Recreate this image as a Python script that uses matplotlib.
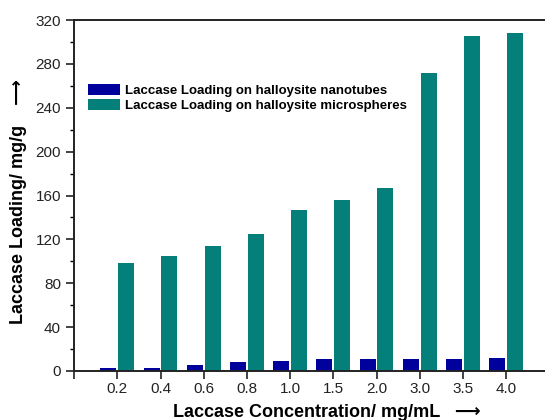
import matplotlib
matplotlib.use("Agg")
import matplotlib.pyplot as plt
import numpy as np

plt.rcParams["font.family"] = ["Liberation Sans", "DejaVu Sans"]

# laccase concentration (mg/mL) and loading (mg/g)
concentrations = ["0.2", "0.4", "0.6", "0.8", "1.0", "1.5", "2.0", "3.0", "3.5", "4.0"]
loading_nanotubes = [2.5, 3, 5, 8, 9, 11, 11, 11, 11, 11.5]
loading_microspheres = [98, 105, 114, 125, 147, 156, 167, 272, 306, 308]

fig = plt.figure(figsize=(5.45, 4.2), dpi=100)
ax = fig.add_axes([0.136, 0.117, 0.864, 0.835])

x = np.arange(len(concentrations))
w = 0.37
ax.bar(x - w / 2 - 0.02, loading_nanotubes, w, color="#00009C",
       label="Laccase Loading on halloysite nanotubes")
ax.bar(x + w / 2 + 0.02, loading_microspheres, w, color="#047F7A",
       label="Laccase Loading on halloysite microspheres")

ax.set_xlim(-1, 9.9)
ax.set_ylim(0, 320)
ax.set_yticks(np.arange(0, 321, 40))
ax.set_yticks(np.arange(0, 321, 20), minor=True)
ax.set_xticks(np.arange(-1, len(concentrations)))
ax.set_xticklabels([""] + concentrations)

for s in ["left", "bottom", "top"]:
    ax.spines[s].set_linewidth(1.4)
    ax.spines[s].set_color("#222222")
ax.spines["right"].set_visible(False)
ax.tick_params(axis="both", which="major", direction="out", length=6,
               width=1.2, labelsize=11, colors="#222222")
ax.tick_params(axis="y", which="minor", direction="out", length=3, width=1.0)
ax.tick_params(axis="x", pad=2)

# axis titles drawn at fixed figure positions
fig.text(0.034, 0.52, "Laccase Loading/ mg/g    ⟶", rotation=90,
         fontsize=13, fontweight="bold", ha="center", va="center")
fig.text(0.60, 0.017, "Laccase Concentration/ mg/mL   ⟶", fontsize=13,
         fontweight="bold", ha="center", va="center")

leg = ax.legend(loc="upper left", bbox_to_anchor=(0.005, 0.853), frameon=False,
                fontsize=9.5, handlelength=2.4, handleheight=0.9,
                labelspacing=0.2, handletextpad=0.4)
for t in leg.get_texts():
    t.set_fontweight("bold")

fig.savefig("out.png", dpi=100)
